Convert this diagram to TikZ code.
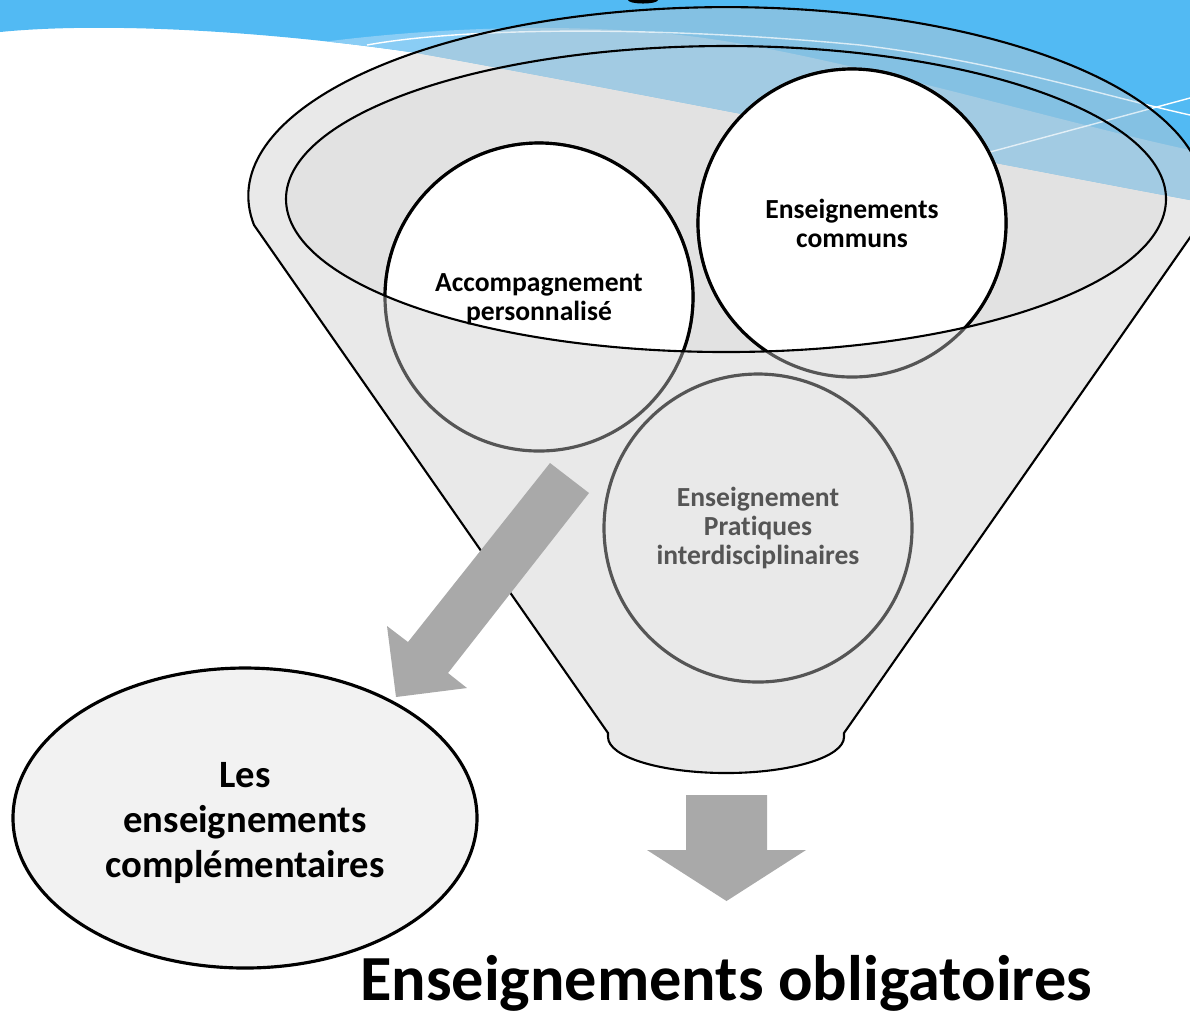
\documentclass[tikz,border=0pt]{standalone}
\usepackage{fontspec}
\setmainfont{Carlito}[Ligatures=NoCommon]
\usepackage{tikz}
\usetikzlibrary{shapes.geometric,positioning}

\definecolor{skyblue}{RGB}{82,186,243}
\definecolor{skylight}{RGB}{138,205,245}
\definecolor{skyshade}{RGB}{132,193,227}
\definecolor{skylightshade}{RGB}{162,203,227}
\definecolor{funnelgray}{RGB}{233,233,233}
\definecolor{rimgray}{RGB}{226,226,226}
\definecolor{bubbleline}{RGB}{85,85,85}
\definecolor{arrowgray}{RGB}{169,169,169}
\definecolor{complfill}{RGB}{242,242,242}

% paths used more than once
\newcommand{\funnelpath}{(2.54,2.25) arc[start angle=171.2, end angle=368.8, x radius=4.78, y radius=1.89] -- (8.44,7.33) -- (8.44,7.37) arc[start angle=0, end angle=180, x radius=1.18, y radius=0.36] -- (6.08,7.33) -- cycle}
\newcommand{\rimpath}{(7.26,1.99) ellipse[x radius=4.40, y radius=1.53]}
\newcommand{\skypath}{(0,0) -- (11.9,0) -- (11.9,2.0) .. controls (9.5,1.55) and (6.5,0.95) .. (4.17,0.53) .. controls (2.6,0.30) and (1.0,0.22) .. (0,0.32) -- cycle}
\newcommand{\wedgepath}{(3.0,0.45) .. controls (4.2,0.28) and (5.6,0.22) .. (6.8,0.35) .. controls (8.2,0.5) and (10.5,1.2) .. (11.9,1.5) -- (11.9,2.6) -- cycle}

\tikzset{
  swoosh/.style={white, line width=0.4pt},
  rimline/.style={black, line width=0.6pt},
  bubble/.style={circle, draw=bubbleline, fill=funnelgray, line width=0.9pt, minimum size=3.08cm, inner sep=0pt},
  topbubble/.style={draw=black, fill=white, line width=0.9pt},
  bubbletext/.style={align=center, font=\bfseries\fontsize{7.85}{8.3}\selectfont},
  compltext/.style={align=center, font=\bfseries\fontsize{11}{12.8}\selectfont},
}

\begin{document}
\begin{tikzpicture}[x=1cm, y=-1cm]
    \useasboundingbox (0,0) rectangle (11.9,10.15);
    \clip (0,0) rectangle (11.9,10.15);

    % Sky
    \begin{scope}
        \clip \skypath;
        \fill[skyblue] (0,0) rectangle (11.9,3);
        \fill[skylight] \wedgepath;
    \end{scope}
    \draw[swoosh] (3.67,0.45) .. controls (4.6,0.28) and (6.5,0.25) .. (8.6,0.45) .. controls (10.0,0.62) and (11.0,0.95) .. (11.9,1.15);
    \draw[swoosh] (9.90,1.52) -- (11.9,0.98);
    \fill (6.43,0) ellipse[x radius=0.15, y radius=0.035];

    % Funnel
    \fill[funnelgray] \funnelpath;
    \fill[rimgray] \rimpath;
    \begin{scope}
        \clip \funnelpath;
        \clip \skypath;
        \fill[skyshade] (0,0) rectangle (11.9,3);
        \fill[skylightshade] \wedgepath;
        \draw[swoosh, opacity=0.7] (3.67,0.45) .. controls (4.6,0.28) and (6.5,0.25) .. (8.6,0.45) .. controls (10.0,0.62) and (11.0,0.95) .. (11.9,1.15);
        \draw[swoosh, opacity=0.7] (9.90,1.52) -- (11.9,0.98);
    \end{scope}

    % Bubbles in the rim
    \node[bubble] (accomp) at (5.39,2.97) {};
    \node[bubble] (communs) at (8.52,2.23) {};
    \begin{scope}
        \clip \rimpath;
        \draw[topbubble] (accomp.center) circle[radius=1.54];
        \draw[topbubble] (communs.center) circle[radius=1.54];
    \end{scope}
    \draw[rimline] \rimpath;
    \draw[rimline] \funnelpath;

    \node[bubbletext] (accomptext) at ([yshift=-0.02cm]accomp.center) {Accompagnement\\personnalisé};
    \node[bubbletext] (communstext) at (communs) {Enseignements\\communs};
    \node[bubble, bubbletext, text=bubbleline] (epi) at (7.58,5.28) {Enseignement\\Pratiques\\interdisciplinaires};

    % Arrows
    \fill[arrowgray] (5.50,4.63) -- (5.89,4.93) -- (4.48,6.73) -- (4.67,6.88) -- (3.96,6.97) -- (3.87,6.26) -- (4.08,6.42) -- cycle;
    \fill[arrowgray] (6.86,7.95) -- (7.67,7.95) -- (7.67,8.50) -- (8.06,8.50) -- (7.265,9.01) -- (6.47,8.50) -- (6.86,8.50) -- cycle;

    % Outputs
    \node[ellipse, draw, fill=complfill, line width=0.9pt, minimum width=4.64cm, minimum height=3.0cm] (compl) at (2.45,8.18) {};
    \node[compltext] (compllabel) at ([yshift=-0.05cm]compl.center) {Les\\enseignements\\complémentaires};
    \node[anchor=base, font=\bfseries\fontsize{18.3}{21}\selectfont] (title) at (7.26,10.0) {Enseignements obligatoires};
\end{tikzpicture}
\end{document}
